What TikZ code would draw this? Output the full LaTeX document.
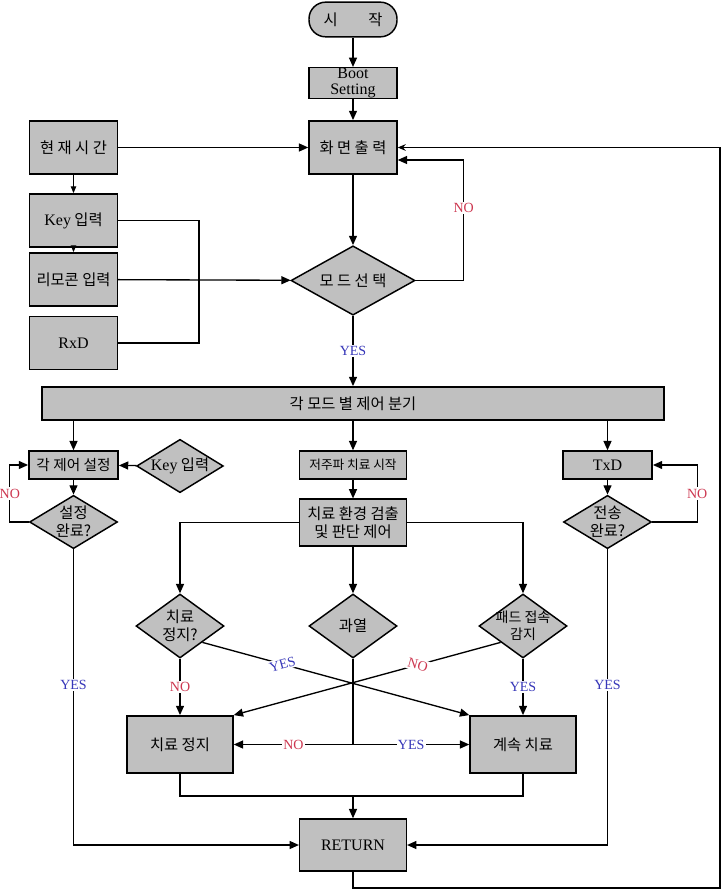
\documentclass[tikz,border=0pt]{standalone}
\usepackage{fontspec}
\setmainfont{Liberation Serif}
\newfontfamily\kr{Noto Sans CJK KR}
\usetikzlibrary{shapes.geometric,arrows.meta,calc}
\definecolor{boxgray}{RGB}{192,192,192}
\definecolor{nored}{RGB}{205,55,80}
\definecolor{yesblue}{RGB}{55,55,185}
\tikzset{
  blk/.style={draw, fill=boxgray, line width=1.1pt, inner sep=0pt, align=center, font={\kr\fontsize{11.5}{13.5}\selectfont}},
  dec/.style={diamond, draw, fill=boxgray, line width=1.1pt, inner sep=-5pt, align=center, font={\kr\fontsize{11.5}{13.5}\selectfont}},
  ln/.style={line width=1pt},
  flow/.style={line width=1pt, -{Triangle[length=7pt,width=6pt]}},
  thinflow/.style={line width=0.7pt, -{Triangle[length=5pt,width=4pt]}},
  nolbl/.style={fill=white, text=nored, inner sep=1pt, font=\fontsize{10.5}{11}\selectfont},
  yeslbl/.style={fill=white, text=yesblue, inner sep=1pt, font=\fontsize{10.5}{11}\selectfont}
}
\begin{document}
\begin{tikzpicture}[x=0.75pt,y=0.75pt,yscale=-1,xscale=1]
        \useasboundingbox (0,0) rectangle (722,891);
        %Shape: Terminal
        \node [blk, rounded corners=12.5pt, minimum width=66pt, minimum height=26pt] (start) at (353,19.5) {시\hspace{2em}작};
        %Shape: Rectangle
        \node [blk, minimum width=66pt, minimum height=22.5pt, font=\fontsize{12}{12.5}\selectfont] (boot) at (353,83) {Boot\\Setting};
        \node [blk, minimum width=66pt, minimum height=40pt] (screen) at (353,147.5) {화 면 출 력};
        \node [blk, minimum width=66pt, minimum height=40pt] (now) at (73.5,147.5) {현 재 시 간};
        \node [blk, minimum width=66pt, minimum height=40pt] (keyin) at (73.5,220.5) {{\rmfamily\fontsize{12}{13}\selectfont Key} 입력};
        \node [blk, minimum width=66pt, minimum height=40pt] (remote) at (73.5,279.5) {리모콘 입력};
        \node [blk, minimum width=66pt, minimum height=40pt, font=\fontsize{12}{13}\selectfont] (rxd) at (73.5,343) {RxD};
        %Shape: Diamond
        \node [dec, minimum width=93pt, minimum height=52pt] (mode) at (353,280.5) {모 드 선 택};
        %Shape: Rectangle
        \node [blk, minimum width=466.5pt, minimum height=25pt] (branch) at (353,403.5) {각 모드 별 제어 분기};
        \node [blk, minimum width=67pt, minimum height=21pt, font={\kr\fontsize{11}{13}\selectfont}] (setup) at (73.5,465) {각 제어 설정};
        \node [dec, minimum width=65pt, minimum height=40pt] (keydia) at (180,466) {{\rmfamily\fontsize{12}{13}\selectfont Key} 입력};
        \node [dec, minimum width=66pt, minimum height=40pt] (setdone) at (73.5,522) {설정\\완료?};
        \node [blk, minimum width=80pt, minimum height=21pt, font={\kr\fontsize{9.5}{10}\selectfont}] (lowfreq) at (353,465) {저주파 치료 시작};
        \node [blk, minimum width=80pt, minimum height=35pt] (detect) at (353,522.5) {치료 환경 검출\\및 판단 제어};
        \node [blk, minimum width=67pt, minimum height=21pt, font=\fontsize{12}{13}\selectfont] (txd) at (607.5,465) {TxD};
        \node [dec, minimum width=66pt, minimum height=40pt] (sentq) at (607.5,522) {전송\\완료?};
        \node [dec, minimum width=66pt, minimum height=48pt] (stopq) at (180,626) {치료\\정지?};
        \node [dec, minimum width=66pt, minimum height=48pt] (heat) at (353,626) {과열};
        \node [dec, minimum width=66pt, minimum height=48pt, font={\kr\fontsize{10.5}{13}\selectfont}] (pad) at (523,626) {패드 접속\\감지};
        \node [blk, minimum width=79.5pt, minimum height=43pt] (stop) at (180,744.5) {치료 정지};
        \node [blk, minimum width=79.5pt, minimum height=43pt] (cont) at (523,744.5) {계속 치료};
        \node [blk, minimum width=80pt, minimum height=39pt, font=\fontsize{12}{13}\selectfont] (ret) at (353,845) {RETURN};

        %Junctions
        \coordinate (jn) at (199,280);
        \coordinate (rloop) at (720,888);
        \coordinate (hj) at (heat.south |- stop.east);
        \coordinate (mj) at (353,796);

        %Straight Lines
        \draw [flow] (start) -- (boot);
        \draw [flow] (boot) -- (screen);
        \draw [flow] (now) -- (screen);
        \draw [thinflow] (now) -- (keyin);
        \draw [thinflow] (keyin) -- (remote);
        \draw [ln] (keyin.east) -| (jn) |- (rxd.east);
        \draw [flow] (remote) -- (mode);
        \draw [flow] (screen) -- (mode);
        \draw [flow] (mode.east) -- ++(48,0) |- node [nolbl, pos=0.3] (no1) {NO} ($(screen.east)+(0,12.5)$);
        \draw [line width=1pt, -{Stealth[length=6pt,width=5pt]}] (ret.south) |- (rloop) |- (screen.east);
        \draw [flow] (mode) -- node [yeslbl] (yes1) {YES} (branch);

        %Branches
        \draw [flow] (setup.north |- branch.south) -- (setup);
        \draw [flow] (branch.south) -- (lowfreq);
        \draw [flow] (txd.north |- branch.south) -- (txd);

        %Left branch
        \draw [flow] (keydia) -- (setup);
        \draw [flow] (setup) -- (setdone);
        \draw [flow] (setdone.west) -- ++(-19,0) |- node [nolbl, pos=0.25] (no2) {NO} (setup.west);
        \draw [flow] (setdone.south) |- node [yeslbl, pos=0.23] (yes2) {YES} (ret.west);

        %Right branch
        \draw [flow] (txd) -- (sentq);
        \draw [flow] (sentq.east) -- ++(45,0) |- node [nolbl, pos=0.25] (no3) {NO} (txd.east);
        \draw [flow] (sentq.south) |- node [yeslbl, pos=0.23] (yes3) {YES} (ret.east);

        %Centre branch
        \draw [flow] (lowfreq) -- (detect);
        \draw [flow] (detect.west) -| (stopq.north);
        \draw [flow] (detect.east) -| (pad.north);
        \draw [flow] (detect) -- (heat);
        \draw [flow] (stopq) -- node [nolbl] (no4) {NO} (stop);
        \draw [flow] (pad) -- node [yeslbl] (yes4) {YES} (cont);
        \draw [flow] (stopq.south east) -- node [yeslbl, pos=0.3, sloped] (yes5) {YES} (cont.north west);
        \draw [flow] (pad.south west) -- node [nolbl, pos=0.31, sloped] (no5) {NO} (stop.north east);
        \draw [ln] (heat.south) -- (hj);
        \draw [flow] (hj) -- node [nolbl] (no6) {NO} (stop.east);
        \draw [flow] (hj) -- node [yeslbl] (yes6) {YES} (cont.west);
        \draw [ln] (stop.south) |- (mj) -| (cont.south);
        \draw [flow] (mj) -- (ret);
    \end{tikzpicture}
\end{document}
